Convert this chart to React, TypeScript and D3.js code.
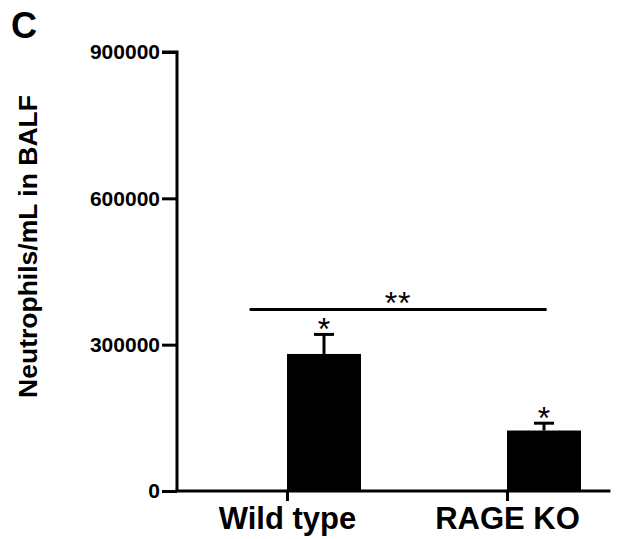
import { useEffect, useRef } from 'react';
import * as d3 from 'd3';

// group data
const groups = ['Wild type', 'RAGE KO'];
const means = [281000, 124000];
const errors = [40000, 15000];
const groupStars = ['*', '*'];
const yTicks = [0, 300000, 600000, 900000];

// the bracket between the groups, in category units
const bracketFrom = -0.17;
const bracketTo = 1.18;
const bracketValue = 372000;
const bracketLabel = '**';

const FONT = '"Liberation Sans", Arial, Helvetica, sans-serif';

const App = () => {
  const ref = useRef<HTMLDivElement>(null);

  useEffect(() => {
    document.body.style.margin = '0';
    d3.select(ref.current).selectAll('*').remove();

    const width = 617;
    const height = 539;

    const svg = d3.select(ref.current)
      .append('svg')
      .attr('width', width)
      .attr('height', height)
      .style('display', 'block')
      .style('background', '#fff')
      .attr('font-family', FONT)
      .attr('font-weight', 'bold');

    // scales
    const x = d3.scaleLinear().domain([-0.5, 1.5]).range([177, 617]);
    const y = d3.scaleLinear().domain([0, 900000]).range([491, 52]);
    const barWidth = 74;
    const capHalf = 10;

    // panel letter
    svg.append('text')
      .attr('x', 11)
      .attr('y', 38)
      .attr('font-size', 36)
      .text('C');

    // y axis title
    svg.append('text')
      .attr('transform', `translate(37, ${y(900000 * 0.5) - 25}) rotate(-90)`)
      .attr('text-anchor', 'middle')
      .attr('font-size', 26.5)
      .text('Neutrophils/mL in BALF');

    // bars
    svg.append('g')
      .selectAll('rect')
      .data(means)
      .join('rect')
      .attr('x', (_, i) => x(i))
      .attr('y', d => y(d))
      .attr('width', barWidth)
      .attr('height', d => y(0) - y(d))
      .attr('fill', '#000');

    // error bars (upper only)
    const err = svg.append('g')
      .attr('stroke', '#000')
      .attr('stroke-width', 3);
    means.forEach((m, i) => {
      const cx = x(i) + barWidth / 2;
      err.append('line')
        .attr('x1', cx).attr('x2', cx)
        .attr('y1', y(m)).attr('y2', y(m + errors[i]));
      err.append('line')
        .attr('x1', cx - capHalf).attr('x2', cx + capHalf)
        .attr('y1', y(m + errors[i])).attr('y2', y(m + errors[i]));
      svg.append('text')
        .attr('x', cx)
        .attr('y', y(m + errors[i]) + 6)
        .attr('text-anchor', 'middle')
        .attr('font-size', 32)
        .attr('font-weight', 'normal')
        .text(groupStars[i]);
    });

    // significance bracket
    svg.append('line')
      .attr('x1', x(bracketFrom))
      .attr('x2', x(bracketTo))
      .attr('y1', y(bracketValue))
      .attr('y2', y(bracketValue))
      .attr('stroke', '#000')
      .attr('stroke-width', 3);
    svg.append('text')
      .attr('x', (x(bracketFrom) + x(bracketTo)) / 2)
      .attr('y', y(bracketValue) + 4)
      .attr('text-anchor', 'middle')
      .attr('font-size', 32)
      .attr('font-weight', 'normal')
      .attr('letter-spacing', 1)
      .text(bracketLabel);

    // y axis
    const yAxis = d3.axisLeft(y)
      .tickValues(yTicks)
      .tickFormat(d3.format('d'))
      .tickSize(15)
      .tickPadding(2);
    const yAxisGroup = svg.append('g')
      .attr('transform', `translate(${x(-0.5)}, 0)`)
      .call(yAxis);
    yAxisGroup.select('.domain')
      .attr('d', `M-15,${y(900000)}H0V${y(0)}`)
      .attr('stroke-width', 3);
    yAxisGroup.selectAll('.tick line').attr('stroke-width', 3);
    yAxisGroup.selectAll('.tick text')
      .attr('font-family', FONT)
      .attr('font-size', 21)
      .attr('fill', '#000');

    // x axis
    const xAxis = d3.axisBottom(x)
      .tickValues(groups.map((_, i) => i))
      .tickFormat((_, i) => groups[i])
      .tickSize(10)
      .tickPadding(6);
    const xAxisGroup = svg.append('g')
      .attr('transform', `translate(0, ${y(0)})`)
      .call(xAxis);
    xAxisGroup.select('.domain')
      .attr('d', `M${x(-0.5) - 1.5},0H${x(1.47)}`)
      .attr('stroke-width', 3);
    xAxisGroup.selectAll('.tick line').attr('stroke-width', 3);
    xAxisGroup.selectAll('.tick text')
      .attr('font-family', FONT)
      .attr('font-size', 31)
      .attr('fill', '#000');
  }, []);

  return <div className='chart' ref={ref}></div>;
};

export default App;
